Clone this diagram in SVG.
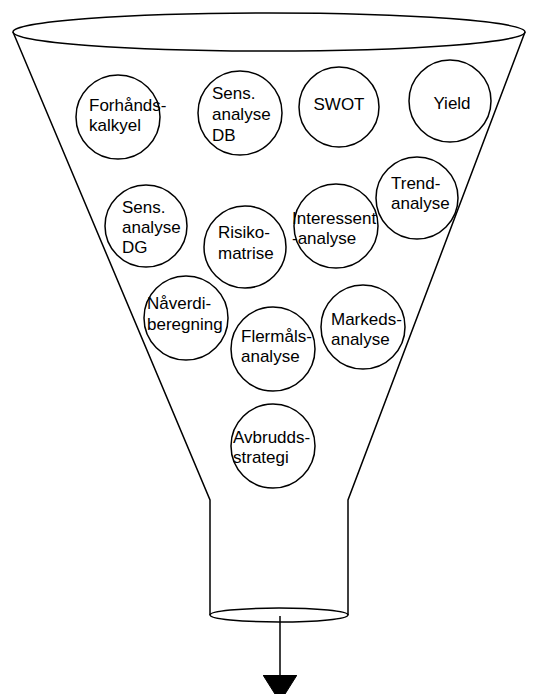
<svg xmlns="http://www.w3.org/2000/svg" width="538" height="694" viewBox="0 0 538 694">
  <style>
    .outline { fill: none; stroke: #000; stroke-width: 1.5; }
    .node circle { fill: #fff; stroke: #000; stroke-width: 1.5; }
    .node text { font-family: "Liberation Sans", Arial, sans-serif; font-size: 17px; fill: #000; }
    .mid { text-anchor: middle; }
  </style>
  <defs>
    <!-- filled triangle pointing along the line direction -->
    <marker id="arrowhead" markerUnits="userSpaceOnUse" markerWidth="28" markerHeight="34" refX="0" refY="17" orient="auto" viewBox="0 0 28 34">
      <path d="M0,0 L27,17 L0,34 Z" fill="#000" stroke="#000" stroke-width="1"/>
    </marker>
  </defs>
  <rect width="538" height="694" fill="#fff"/>

  <!-- funnel body -->
  <g id="funnel">
    <ellipse class="outline" cx="269" cy="32" rx="256" ry="19"/>
    <path class="outline" d="M13,32 L210,500 L210,615"/>
    <path class="outline" d="M525,32 L348,500 L348,615"/>
    <ellipse class="outline" cx="279" cy="615" rx="69" ry="7"/>
  </g>

  <g id="node-forhandskalkyel" class="node">
    <circle cx="118" cy="117" r="42"/>
    <text x="89" y="111">Forhånds-</text>
    <text x="89" y="131">kalkyel</text>
  </g>
  <g id="node-sens-db" class="node">
    <circle cx="240" cy="113" r="42"/>
    <text x="212" y="99">Sens.</text>
    <text x="212" y="120">analyse</text>
    <text x="212" y="141">DB</text>
  </g>
  <g id="node-swot" class="node">
    <circle cx="339" cy="107" r="40"/>
    <text class="mid" x="339" y="110">SWOT</text>
  </g>
  <g id="node-yield" class="node">
    <circle cx="450" cy="101" r="41"/>
    <text class="mid" x="452" y="109">Yield</text>
  </g>
  <g id="node-trend" class="node">
    <circle cx="417" cy="198" r="41"/>
    <text x="391" y="189">Trend-</text>
    <text x="391" y="209">analyse</text>
  </g>
  <g id="node-sens-dg" class="node">
    <circle cx="146" cy="226" r="41"/>
    <text x="122" y="213">Sens.</text>
    <text x="122" y="233">analyse</text>
    <text x="122" y="253">DG</text>
  </g>
  <g id="node-risiko" class="node">
    <circle cx="245" cy="247" r="41"/>
    <text x="218" y="238">Risiko-</text>
    <text x="218" y="259">matrise</text>
  </g>
  <g id="node-interessent" class="node">
    <circle cx="336" cy="226" r="42"/>
    <text x="292" y="224">Interessent</text>
    <text x="292" y="244">-analyse</text>
  </g>
  <g id="node-naverdi" class="node">
    <circle cx="186" cy="318" r="42"/>
    <text x="147" y="309">Nåverdi-</text>
    <text x="147" y="330">beregning</text>
  </g>
  <g id="node-flermals" class="node">
    <circle cx="273" cy="349" r="42"/>
    <text x="241" y="342">Flermåls-</text>
    <text x="241" y="362">analyse</text>
  </g>
  <g id="node-markeds" class="node">
    <circle cx="363" cy="327" r="42"/>
    <text x="331" y="325">Markeds-</text>
    <text x="331" y="345">analyse</text>
  </g>
  <g id="node-avbrudds" class="node">
    <circle cx="273" cy="446" r="42"/>
    <text x="233" y="443">Avbrudds-</text>
    <text x="233" y="463">strategi</text>
  </g>

  <!-- output arrow -->
  <g id="connectors">
    <line x1="280" y1="616" x2="280" y2="675" stroke="#000" stroke-width="1.5" marker-end="url(#arrowhead)"/>
  </g>
</svg>
